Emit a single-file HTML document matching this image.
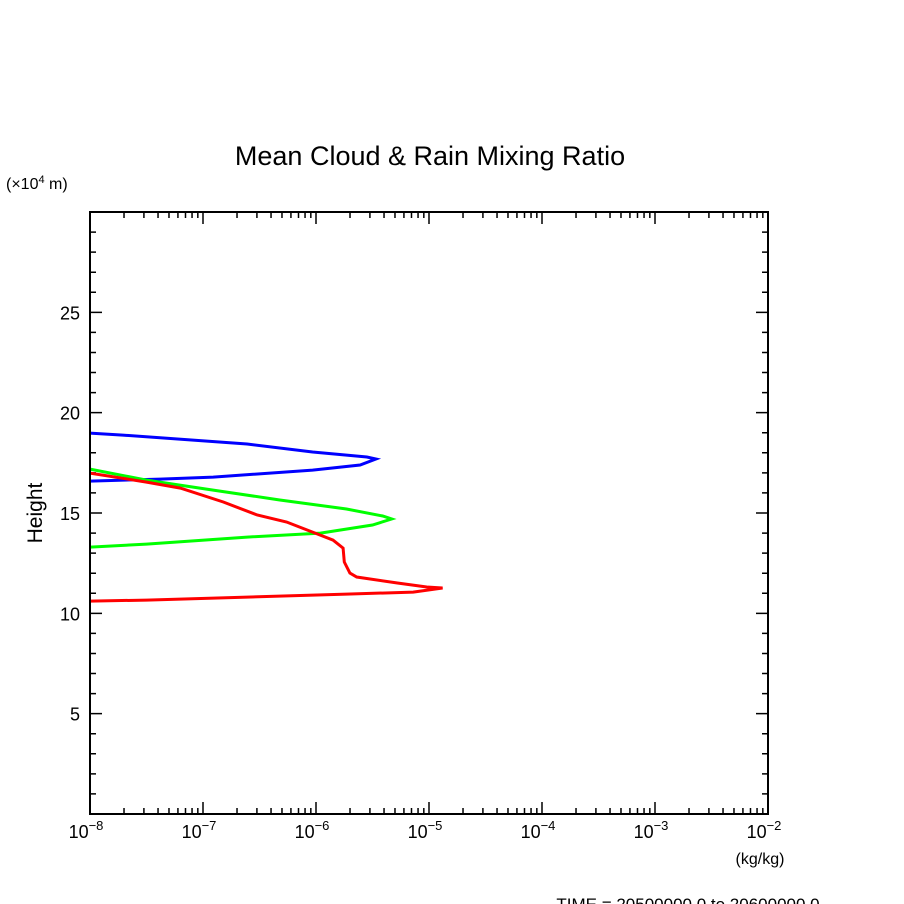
<!DOCTYPE html>
<html><head><meta charset="utf-8"><style>
body{margin:0;background:#fff}
svg{display:block;font-family:"Liberation Sans",sans-serif}
</style></head><body>
<svg id="chart" width="904" height="904" viewBox="0 0 904 904">
<text x="430" y="165" font-size="27" text-anchor="middle">Mean Cloud &amp; Rain Mixing Ratio</text>
<text x="6" y="189" font-size="16">(×10<tspan dy="-6" font-size="11">4</tspan><tspan dy="6"> m)</tspan></text>
<text x="42" y="513" font-size="21" text-anchor="middle" transform="rotate(-90 42 513)">Height</text>
<text x="760" y="864" font-size="16" text-anchor="middle">(kg/kg)</text>
<text x="688" y="910" font-size="17" text-anchor="middle">TIME = 20500000.0 to 20600000.0</text>
<g id="axes"></g>
<g id="series"></g>
<rect x="90" y="212" width="678" height="602" fill="none" stroke="#000" stroke-width="2"/>
</svg>
<script>
const xTickExps = [-8,-7,-6,-5,-4,-3,-2];
const yTicks = [5,10,15,20,25];
// x values stored as log10(mixing ratio kg/kg), y as height (x10^4 m)
const blueLogQ = [-8.00,-7.71,-6.61,-6.03,-5.55,-5.47,-5.61,-6.03,-6.91,-7.38,-8.00];
const blueH    = [18.98,18.88,18.44,18.04,17.79,17.69,17.39,17.14,16.79,16.69,16.59];
const greenLogQ = [-8.00,-7.50,-6.91,-6.32,-5.73,-5.41,-5.33,-5.50,-5.96,-6.61,-7.50,-8.00];
const greenH    = [17.19,16.64,16.14,15.65,15.20,14.85,14.70,14.40,14.00,13.80,13.45,13.30];
const redLogQ = [-8.00,-7.50,-7.20,-6.82,-6.52,-6.26,-6.03,-5.85,-5.76,-5.75,-5.70,-5.64,-5.28,-5.02,-4.88,-5.14,-5.73,-6.61,-7.50,-8.00];
const redH    = [16.99,16.54,16.24,15.55,14.90,14.55,14.05,13.65,13.25,12.56,12.01,11.81,11.51,11.31,11.26,11.06,10.96,10.81,10.66,10.61];

const X0=90,X1=768,Y0=814,Y1=212,XMIN=-8,XMAX=-2,YMIN=0,YMAX=30;
const xs = v => X0+(v-XMIN)/(XMAX-XMIN)*(X1-X0);
const ys = v => Y0-(v-YMIN)/(YMAX-YMIN)*(Y0-Y1);
const NS="http://www.w3.org/2000/svg";
const axes=document.getElementById('axes');
function mk(tag,attrs,parent){const e=document.createElementNS(NS,tag);for(const k in attrs)e.setAttribute(k,attrs[k]);parent.appendChild(e);return e;}
let d="";
for(let i=0;i<xTickExps.length;i++){
  const e=xTickExps[i], x=xs(e);
  d+=`M${x} ${Y0}v-12M${x} ${Y1}v12`;
  if(i<xTickExps.length-1){for(let m=2;m<=9;m++){const xm=xs(e+Math.log10(m));d+=`M${xm} ${Y0}v-6M${xm} ${Y1}v6`;}}
  const t=mk('text',{x:x-4,y:838,'font-size':18,'text-anchor':'middle'},axes);
  
  
  t.innerHTML=`10<tspan dy="-8" font-size="13">−${-e}</tspan>`;
}
for(let h=1;h<30;h++){const y=ys(h);const len=(h%5===0)?12:6;d+=`M${X0} ${y}h${len}M${X1} ${y}h-${len}`;}
yTicks.forEach(v=>{
  const t=mk('text',{x:80,y:ys(v)+7,'font-size':18,'text-anchor':'end'},axes);
  
  
  t.textContent=v;
});
const tk=mk('path',{d:d,stroke:'#000','stroke-width':1.5,fill:'none'},axes);


const ser=document.getElementById('series');
function line(xv,yv,color,name){
  const pts=xv.map((v,i)=>xs(v).toFixed(1)+','+ys(yv[i]).toFixed(1)).join(' ');
  const p=mk('polyline',{points:pts,fill:'none',stroke:color,'stroke-width':3},ser);
  
  
}
line(blueLogQ,blueH,'#0000ff','blue-series');
line(greenLogQ,greenH,'#00ff00','green-series');
line(redLogQ,redH,'#ff0000','red-series');
</script>
</body></html>
